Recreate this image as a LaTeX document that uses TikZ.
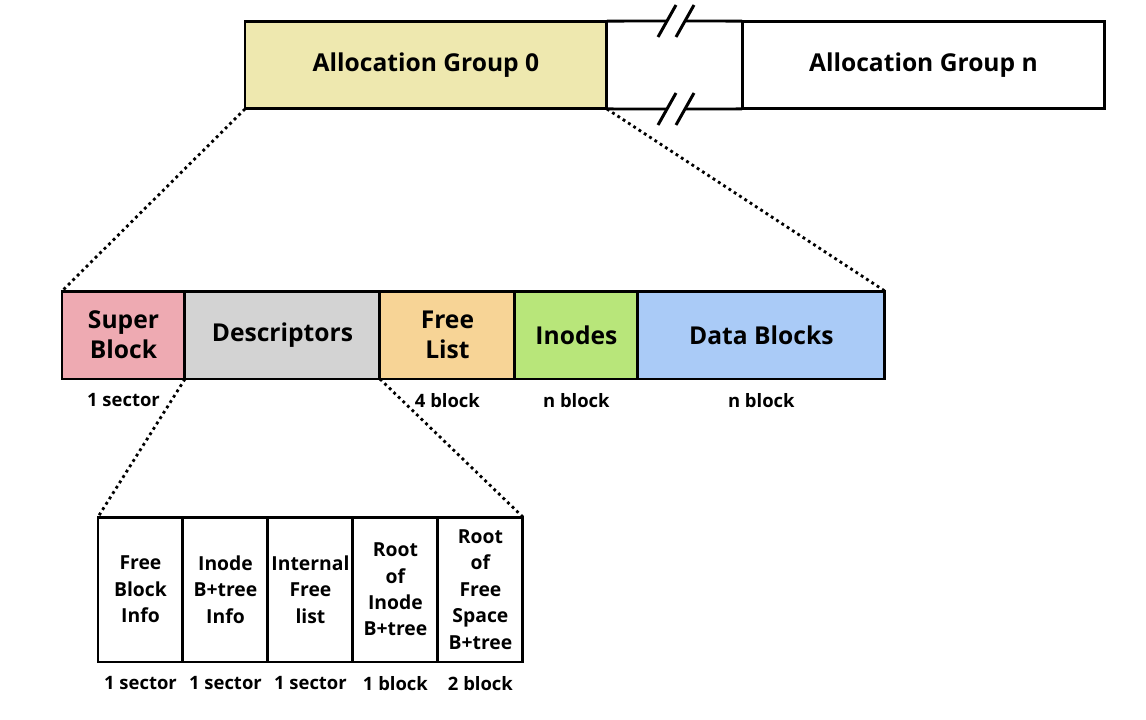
\documentclass[tikz,border=0pt]{standalone}
\usepackage{fontspec}
\setmainfont{Open Sans}
\usetikzlibrary{positioning,calc}
\definecolor{groupyellow}{RGB}{238,232,175}
\definecolor{superpink}{RGB}{238,170,178}
\definecolor{descgray}{RGB}{211,211,211}
\definecolor{freeorange}{RGB}{247,212,150}
\definecolor{inodegreen}{RGB}{184,230,122}
\definecolor{datablue}{RGB}{170,203,247}

\begin{document}
\begin{tikzpicture}[
  x=0.02cm, y=-0.02cm,
  font=\bfseries\fontsize{14}{17}\selectfont,
  part/.style={draw=black, line width=1.7pt, outer sep=0pt, inner sep=0pt,
               align=center, minimum height=1.76cm},
  sub/.style={part, minimum height=2.9cm, minimum width=1.7cm,
              font=\bfseries\fontsize{11}{15}\selectfont},
  size/.style={inner sep=0pt, font=\bfseries\fontsize{10.5}{12}\selectfont},
  edge/.style={line width=1.7pt},
  zoomline/.style={line width=1.6pt, dotted}]
  \useasboundingbox (0,0) rectangle (1146,720);
  % allocation groups
  \node[part, fill=groupyellow, minimum width=7.24cm, anchor=west] (ag0) at (245,65) {Allocation Group 0};
  \node[part, minimum width=7.26cm, anchor=west] (agn) at (742,65) {Allocation Group n};
  \draw[edge] (ag0.north east) -- (667,21) (685,21) -- (agn.north west);
  \draw[edge] (ag0.south east) -- (667,109) (685,109) -- (agn.south west);
  \foreach \y in {21,109} {
    \draw[edge] (658,\y+16) -- (676,\y-16);
    \draw[edge] (676,\y+16) -- (694,\y-16);
  }
  % group 0 layout
  \node[part, fill=superpink, minimum width=2.46cm, anchor=west] (sb) at (62,335) {Super\\Block};
  \node[part, fill=descgray, minimum width=3.9cm, right=0pt of sb] (desc) {Descriptors};
  \node[part, fill=freeorange, minimum width=2.7cm, right=0pt of desc] (fl) {Free\\List};
  \node[part, fill=inodegreen, minimum width=2.46cm, right=0pt of fl] (ino) {Inodes};
  \node[part, fill=datablue, minimum width=4.94cm, right=0pt of ino] (db) {Data Blocks};
  \node[size, below=0.28cm of sb] (sbsize) {1 sector};
  \node[size, below=0.28cm of fl] (flsize) {4 block};
  \node[size, below=0.28cm of ino] (inosize) {n block};
  \node[size, below=0.28cm of db] (dbsize) {n block};
  % descriptors
  \node[sub, anchor=west] (fbi) at (98,589.5) {Free\\Block\\Info};
  \node[sub, right=0pt of fbi] (ibi) {Inode\\B+tree\\Info};
  \node[sub, right=0pt of ibi] (ifl) {Internal\\Free\\list};
  \node[sub, right=0pt of ifl] (rib) {Root\\of\\Inode\\B+tree};
  \node[sub, right=0pt of rib] (rfs) {Root\\of\\Free\\Space\\B+tree};
  \node[size, below=0.28cm of fbi] (fbisize) {1 sector};
  \node[size, below=0.28cm of ibi] (ibisize) {1 sector};
  \node[size, below=0.28cm of ifl] (iflsize) {1 sector};
  \node[size, below=0.28cm of rib] (ribsize) {1 block};
  \node[size, below=0.28cm of rfs] (rfssize) {2 block};
  % zoom lines
  \draw[zoomline] (ag0.south west) -- (sb.north west);
  \draw[zoomline] (ag0.south east) -- (db.north east);
  \draw[zoomline] (desc.south west) -- (fbi.north west);
  \draw[zoomline] (desc.south east) -- (rfs.north east);
\end{tikzpicture}
\end{document}
